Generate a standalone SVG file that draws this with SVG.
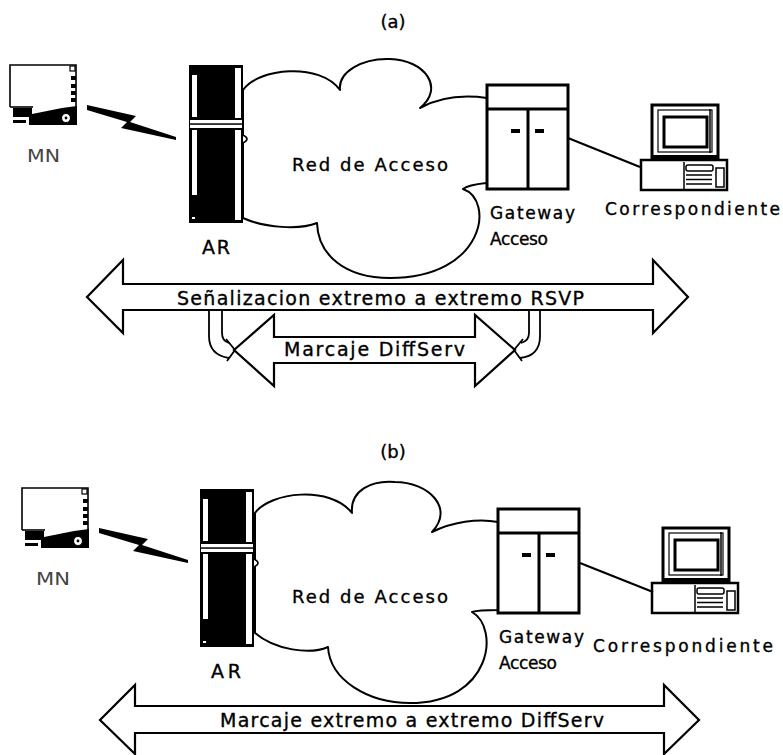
<svg xmlns="http://www.w3.org/2000/svg" width="783" height="755" viewBox="0 0 783 755">
  <style>
    .lbl { font-family: "DejaVu Sans", "Liberation Sans", sans-serif; fill: #000; stroke: #000; stroke-width: 0.35; }
    .thin { fill: #444; stroke: none; }
    .cloud { fill: #fff; stroke: #000; stroke-width: 2; stroke-linejoin: round; }
    .band { fill: #fff; stroke: #000; stroke-width: 2.2; stroke-linejoin: miter; }
    .hook { fill: none; stroke: #000; stroke-width: 1.8; }
    .wire { stroke: #000; stroke-width: 2.2; }
    .ln { fill: none; stroke: #000; }
  </style>
  <defs>
    <!-- mobile node: laptop seen from the side -->
    <g id="ico-mn">
      <path class="ln" d="M0,42 V0 H66 V60" stroke-width="1.6"/>
      <path class="ln" d="M0,42 H23" stroke-width="1.6"/>
      <rect x="60" y="1" width="5" height="5" fill="#fff" stroke="#000" stroke-width="1.2"/>
      <rect x="61" y="11" width="5" height="4" fill="#000"/>
      <rect x="61" y="19" width="5" height="4" fill="#000"/>
      <rect x="61" y="26" width="5" height="4" fill="#000"/>
      <rect x="61" y="33" width="5" height="4" fill="#000"/>
      <polygon points="3,43 22,43 22,49 52,43 67,41 67,60 19,60 19,52 3,52" fill="#000"/>
      <rect x="3" y="55" width="13" height="3" fill="#000"/>
      <circle cx="56" cy="53" r="4.5" fill="#fff" stroke="#000" stroke-width="1.2"/>
      <circle cx="56" cy="53" r="1.4" fill="#000"/>
    </g>
    <!-- access router: tall black cabinet -->
    <g id="ico-tower">
      <path d="M54,70 Q62,74 54,78" fill="#fff" stroke="#000" stroke-width="1.6"/>
      <rect x="0" y="0" width="54" height="158" fill="#000"/>
      <rect x="3" y="10" width="5" height="42" fill="#fff"/>
      <rect x="46" y="3" width="6" height="50" fill="#fff"/>
      <rect x="1" y="55" width="52" height="8" fill="#fff"/>
      <rect x="1" y="58.3" width="52" height="1.5" fill="#000"/>
      <rect x="3" y="65" width="5" height="65" fill="#fff"/>
      <rect x="46" y="65" width="6" height="90" fill="#fff"/>
      <rect x="3" y="152" width="3" height="2" fill="#fff"/>
    </g>
    <!-- gateway: two-door cabinet -->
    <g id="ico-gw">
      <rect x="0" y="0" width="81" height="104" fill="#fff" stroke="#000" stroke-width="3"/>
      <path class="ln" d="M0,24 H81" stroke-width="3"/>
      <path class="ln" d="M41,24 V104" stroke-width="3"/>
      <rect x="24" y="44" width="9" height="4" fill="#000"/>
      <rect x="48" y="44" width="9" height="4" fill="#000"/>
    </g>
    <!-- desktop computer -->
    <g id="ico-pc">
      <rect x="-11" y="55" width="86" height="30" fill="#fff" stroke="#000" stroke-width="2.5"/>
      <rect x="0" y="0" width="66" height="53" fill="#fff" stroke="#000" stroke-width="3"/>
      <rect x="0" y="50" width="66" height="6" fill="#000"/>
      <rect x="6" y="5" width="54" height="42" class="ln" stroke-width="1.2"/>
      <rect x="12" y="12" width="43" height="30" class="ln" stroke-width="3"/>
      <path class="ln" d="M58,4 V48" stroke-width="1.5"/>
      <path class="ln" d="M32,57 V84" stroke-width="1.5"/>
      <rect x="34" y="60" width="27" height="6" rx="2" class="ln" stroke-width="1.5"/>
      <path class="ln" d="M34,70 H60 M34,74.5 H60 M34,79 H60" stroke-width="1.5"/>
      <rect x="64" y="63" width="8" height="19" class="ln" stroke-width="1.5"/>
    </g>
    <!-- radio link -->
    <polygon id="ico-bolt" points="87,105 136,116 130,122 176,137 176,140 121,128 127,122 87,110"/>
  </defs>

  <!-- ===== (a) end-to-end RSVP signalling ===== -->
  <text class="lbl" x="393" y="28" font-size="18" text-anchor="middle">(a)</text>

  <g id="cloud-a">
    <path class="cloud" d="M243,90 C258,68 320,62 340,90 C338,72 362,58 390,59 C425,60 445,88 420,108 C440,97 465,95 487,98 L487,183 C478,184 468,185 463,189 C495,200 485,278 390,278 C345,278 318,255 317,223 C300,230 265,228 243,218 Z"/>
    <text class="lbl" x="292" y="171" font-size="18" textLength="156" lengthAdjust="spacing">Red de Acceso</text>
  </g>

  <g id="mn-a">
    <use href="#ico-mn" transform="translate(10,65)"/>
    <text class="lbl thin" x="27" y="162" font-size="18" textLength="33" lengthAdjust="spacingAndGlyphs">MN</text>
  </g>

  <g id="ar-a">
    <use href="#ico-tower" transform="translate(189,65)"/>
    <text class="lbl" x="202" y="254" font-size="19" textLength="28" lengthAdjust="spacing">AR</text>
  </g>

  <g id="gw-a">
    <use href="#ico-gw" transform="translate(487,85)"/>
    <text class="lbl" x="490" y="219" font-size="17" textLength="85" lengthAdjust="spacing">Gateway</text>
    <text class="lbl" x="490" y="245" font-size="17" textLength="58" lengthAdjust="spacing">Acceso</text>
  </g>

  <g id="pc-a">
    <use href="#ico-pc" transform="translate(652,105)"/>
    <text class="lbl" x="605" y="215" font-size="17" textLength="175" lengthAdjust="spacing">Correspondiente</text>
  </g>

  <g id="links-a">
    <use href="#ico-bolt"/>
    <line class="wire" x1="568" y1="138" x2="640" y2="167"/>
    <!-- RSVP signalling, end to end -->
    <polygon class="band" points="87,297 123,260 123,284 653,284 653,260 688,297 653,333 653,310 123,310 123,333"/>
    <text class="lbl" x="177" y="305" font-size="19" textLength="407" lengthAdjust="spacing">Señalizacion extremo a extremo RSVP</text>
    <!-- DiffServ marking inside the access network -->
    <polygon class="band" points="234,350 274,315 274,337 475,337 475,315 515,350 475,386 475,363 274,363 274,386"/>
    <text class="lbl" x="284" y="356" font-size="19" textLength="181" lengthAdjust="spacing">Marcaje DiffServ</text>
    <!-- mapping hooks from RSVP to DiffServ -->
    <path class="hook" d="M209,311 V336 Q209,355 229,358"/>
    <path class="hook" d="M222,311 V333 Q222,341 229,343"/>
    <path class="hook" d="M226,339 L235,350 L227,361"/>
    <path class="hook" d="M529,311 V333 Q529,341 521,343"/>
    <path class="hook" d="M540,311 V336 Q540,356 520,358"/>
    <path class="hook" d="M523,339 L514,350 L522,361"/>
  </g>

  <!-- ===== (b) end-to-end DiffServ marking ===== -->
  <text class="lbl" x="393" y="458" font-size="18" text-anchor="middle">(b)</text>

  <g id="cloud-b">
    <path class="cloud" d="M255,513 C270,492 330,485 352,513 C350,490 372,480 395,482 C428,482 455,508 432,532 C452,522 478,518 498,522 L498,610 C488,610 478,610 472,612 C500,628 492,703 410,703 C368,703 330,680 328,647 C310,655 275,650 255,633 Z"/>
    <text class="lbl" x="292" y="603" font-size="18" textLength="156" lengthAdjust="spacing">Red de Acceso</text>
  </g>

  <g id="mn-b">
    <use href="#ico-mn" transform="translate(22,488)"/>
    <text class="lbl thin" x="36" y="585" font-size="18" textLength="34" lengthAdjust="spacingAndGlyphs">MN</text>
  </g>

  <g id="ar-b">
    <use href="#ico-tower" transform="translate(200,489)"/>
    <text class="lbl" x="211" y="678" font-size="19" textLength="30" lengthAdjust="spacing">AR</text>
  </g>

  <g id="gw-b">
    <use href="#ico-gw" transform="translate(498,509)"/>
    <text class="lbl" x="499" y="643" font-size="17" textLength="85" lengthAdjust="spacing">Gateway</text>
    <text class="lbl" x="499" y="669" font-size="17" textLength="58" lengthAdjust="spacing">Acceso</text>
  </g>

  <g id="pc-b">
    <use href="#ico-pc" transform="translate(663,528)"/>
    <text class="lbl" x="593" y="652" font-size="17" textLength="180" lengthAdjust="spacing">Correspondiente</text>
  </g>

  <g id="links-b">
    <use href="#ico-bolt" transform="translate(12,423)"/>
    <line class="wire" x1="580" y1="563" x2="653" y2="592"/>
    <polygon class="band" points="100,720 135,685 135,706 664,706 664,685 699,720 664,754 664,733 135,733 135,754"/>
    <text class="lbl" x="220" y="727" font-size="19" textLength="384" lengthAdjust="spacing">Marcaje extremo a extremo DiffServ</text>
  </g>
</svg>
